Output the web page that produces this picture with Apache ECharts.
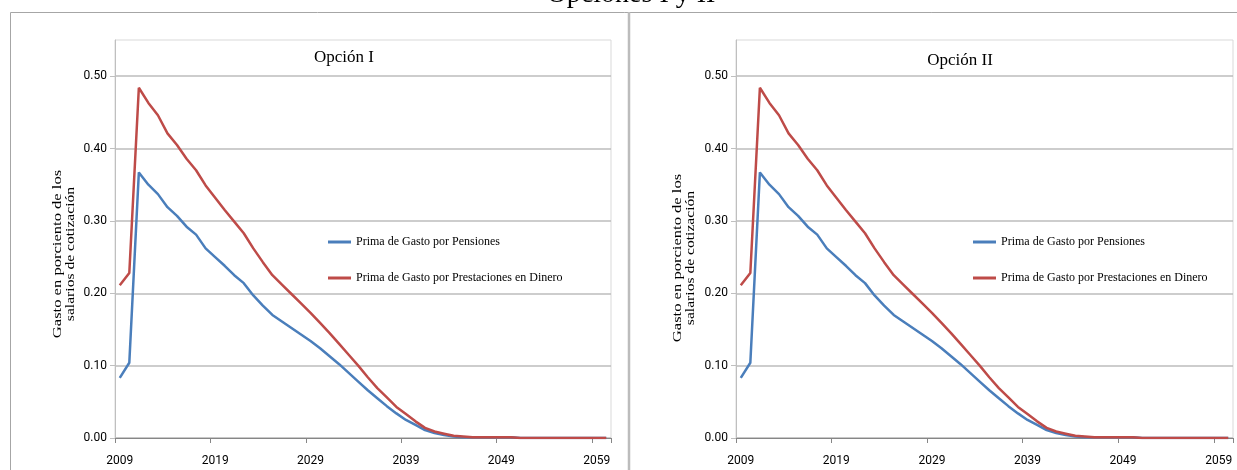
<!DOCTYPE html>
<html>
<head>
<meta charset="utf-8">
<script src="https://cdn.jsdelivr.net/npm/echarts@6/dist/echarts.min.js"></script>
<style>
html,body{margin:0;padding:0;background:#fff;}
#chart{width:1237px;height:470px;}
</style>
</head>
<body>
<div id="chart"></div>
<script>
const years = ['2009','2010','2011','2012','2013','2014','2015','2016','2017','2018',
  '2019','2020','2021','2022','2023','2024','2025','2026','2027','2028',
  '2029','2030','2031','2032','2033','2034','2035','2036','2037','2038',
  '2039','2040','2041','2042','2043','2044','2045','2046','2047','2048',
  '2049','2050','2051','2052','2053','2054','2055','2056','2057','2058',
  '2059','2060'];

const pensiones = [0.083,0.104,0.367,0.350,0.337,0.319,0.307,0.292,0.281,0.262,
  0.250,0.238,0.225,0.214,0.197,0.183,0.170,0.161,0.152,0.143,
  0.134,0.124,0.113,0.102,0.090,0.078,0.066,0.055,0.044,0.034,
  0.025,0.018,0.011,0.007,0.004,0.002,0.001,0.001,0.001,0.001,
  0.001,0.001,0.000,0.000,0.000,0.000,0.000,0.000,0.000,0.000,
  0.000,0.000];

const prestaciones = [0.211,0.228,0.484,0.463,0.446,0.421,0.405,0.386,0.370,0.349,
  0.332,0.315,0.299,0.283,0.262,0.243,0.225,0.212,0.199,0.186,
  0.173,0.159,0.145,0.130,0.115,0.100,0.084,0.069,0.056,0.043,
  0.033,0.023,0.014,0.009,0.006,0.003,0.002,0.001,0.001,0.001,
  0.001,0.001,0.000,0.000,0.000,0.000,0.000,0.000,0.000,0.000,
  0.000,0.000];

const mainTitle = 'Opciones I y II';
const panelTitles = ['Opción I', 'Opción II'];
const seriesNames = ['Prima de Gasto por Pensiones', 'Prima de Gasto por Prestaciones en Dinero'];
const yNameLines = ['Gasto en porciento de los', 'salarios de cotización'];

const BLUE = '#4A7EBB', RED = '#BE4B48';
const SANS = 'Roboto, "Liberation Sans", sans-serif';
const SERIF = '"Liberation Serif", "Times New Roman", serif';

const grids = [
  {left: 115, top: 40, width: 496, height: 398},
  {left: 736, top: 40, width: 497, height: 398}
];

function xAxis(i){
  return {
    type: 'category', gridIndex: i, data: years, boundaryGap: true,
    axisLine: {lineStyle: {color: '#868686', width: 1}},
    axisTick: {show: true, interval: 9, length: 5, lineStyle: {color: '#868686'}},
    axisLabel: {interval: 9, margin: 17, color: '#000', fontSize: 12, fontFamily: SANS},
    splitLine: {show: false}
  };
}
function yAxis(i){
  return {
    type: 'value', gridIndex: i, min: 0, max: 0.55, interval: 0.1,
    axisLine: {show: true, lineStyle: {color: '#bfbfbf', width: 1}},
    axisTick: {show: true, length: 5, lineStyle: {color: '#bfbfbf'}},
    axisLabel: {margin: 8, color: '#000', fontSize: 12, fontFamily: SANS, showMaxLabel: false,
      formatter: v => v.toFixed(2)},
    splitLine: {show: true, showMaxLine: false, lineStyle: {color: '#bdbdbd', width: 1.5}}
  };
}

const series = [];
[0,1].forEach(i => {
  series.push({name: seriesNames[0], type: 'line', xAxisIndex: i, yAxisIndex: i, data: pensiones,
    symbol: 'none', lineStyle: {color: BLUE, width: 2.5}, itemStyle: {color: BLUE}, z: 3});
  series.push({name: seriesNames[1], type: 'line', xAxisIndex: i, yAxisIndex: i, data: prestaciones,
    symbol: 'none', lineStyle: {color: RED, width: 2.5}, itemStyle: {color: RED}, z: 4});
});

function legend(left){
  return {
    orient: 'vertical', left: left, top: 230, itemWidth: 23, itemHeight: 3, itemGap: 22,
    icon: 'rect', selectedMode: false,
    textStyle: {fontFamily: SERIF, fontSize: 12, color: '#000', lineHeight: 14},
    data: seriesNames
  };
}

function yName(cx, cy, line1, line2){
  return [
    {type: 'text', x: cx, y: cy, rotation: Math.PI/2, scaleX: 1.38,
      style: {text: line1, font: '12px ' + SERIF, fill: '#000', align: 'center', verticalAlign: 'middle'}},
    {type: 'text', x: cx + 13, y: cy, rotation: Math.PI/2, scaleX: 1.3,
      style: {text: line2, font: '12px ' + SERIF, fill: '#000', align: 'center', verticalAlign: 'middle'}}
  ];
}

const graphic = [
  {type: 'rect', shape: {x: 10.5, y: 12.5, width: 1400, height: 600}, silent: true,
    style: {fill: 'none', stroke: '#a6a6a6', lineWidth: 1}},
  {type: 'line', shape: {x1: 629, y1: 12, x2: 629, y2: 470}, silent: true,
    style: {stroke: '#bcbcbc', lineWidth: 2.5}},
  {type: 'text', x: 631, y: -5, silent: true,
    style: {text: mainTitle, font: '28px ' + SERIF, fill: '#000', align: 'center', verticalAlign: 'middle'}},
  {type: 'text', x: 344, y: 58, silent: true,
    style: {text: panelTitles[0], font: '17px ' + SERIF, fill: '#000', align: 'center', verticalAlign: 'middle'}},
  {type: 'text', x: 960, y: 61, silent: true,
    style: {text: panelTitles[1], font: '17px ' + SERIF, fill: '#000', align: 'center', verticalAlign: 'middle'}}
].concat(yName(58, 254, yNameLines[0], yNameLines[1]))
 .concat(yName(678, 258, yNameLines[0], yNameLines[1]));

const chart = echarts.init(document.getElementById('chart'), null, {renderer: 'canvas'});
chart.setOption({
  backgroundColor: '#fff',
  animation: false,
  grid: grids.map(g => Object.assign({show: true, borderColor: '#d9d9d9', borderWidth: 1, backgroundColor: 'transparent'}, g)),
  xAxis: [xAxis(0), xAxis(1)],
  yAxis: [yAxis(0), yAxis(1)],
  legend: [legend(323), legend(968)],
  series: series,
  graphic: graphic
});
</script>
</body>
</html>
